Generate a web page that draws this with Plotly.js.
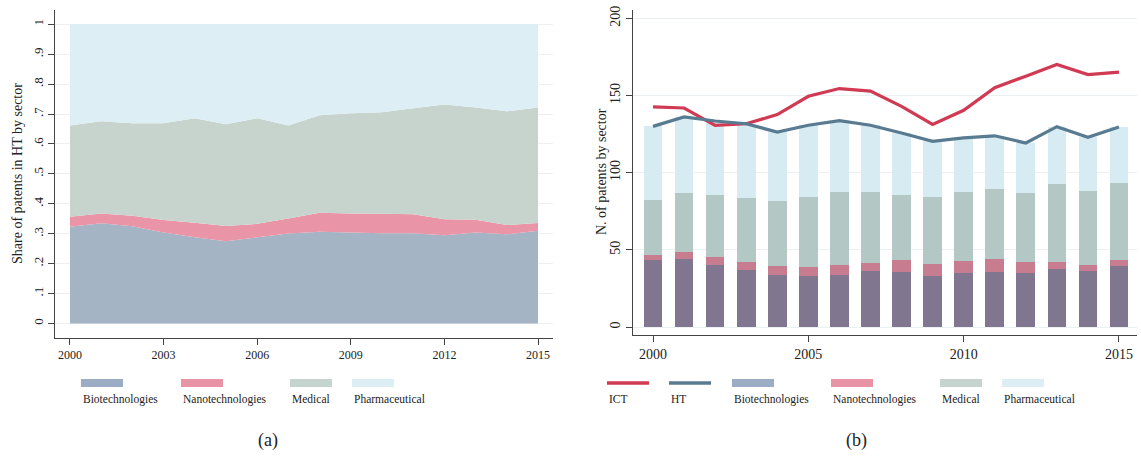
<!DOCTYPE html>
<html>
<head>
<meta charset="utf-8">
<script src="https://cdn.plot.ly/plotly-3.0.1.min.js"></script>
<style>
  html, body { margin: 0; padding: 0; background: #ffffff; }
  #chart { width: 1141px; height: 459px; }
</style>
</head>
<body>
<div id="chart"></div>
<script>
// Years covered by both panels
const years = [2000, 2001, 2002, 2003, 2004, 2005, 2006, 2007, 2008, 2009, 2010, 2011, 2012, 2013, 2014, 2015];

// Panel (a): share of HT patents by sector (stacked, sums to 1)
const shareBio    = [0.323, 0.335, 0.325, 0.304, 0.288, 0.275, 0.288, 0.301, 0.307, 0.304, 0.302, 0.302, 0.295, 0.304, 0.298, 0.310];
const shareNano   = [0.034, 0.033, 0.035, 0.042, 0.049, 0.051, 0.045, 0.050, 0.063, 0.064, 0.065, 0.063, 0.053, 0.043, 0.031, 0.026];
const shareMed    = [0.305, 0.308, 0.309, 0.323, 0.349, 0.340, 0.353, 0.311, 0.326, 0.335, 0.339, 0.354, 0.384, 0.375, 0.380, 0.386];
const sharePharma = [0.338, 0.324, 0.331, 0.331, 0.314, 0.334, 0.314, 0.338, 0.304, 0.297, 0.294, 0.281, 0.268, 0.278, 0.291, 0.278];

// Panel (b): number of patents by sector (stacked bars) and ICT / HT totals
const nBio    = [43.3, 44.0, 40.1, 36.8, 33.8, 33.2, 33.8, 36.0, 35.8, 33.2, 34.7, 35.5, 35.1, 37.7, 36.6, 39.4];
const nNano   = [3.5, 4.8, 5.2, 5.0, 5.9, 5.8, 6.1, 5.6, 7.5, 7.5, 7.8, 8.5, 6.7, 4.6, 3.9, 4.2];
const nMed    = [35.5, 37.9, 40.3, 41.6, 42.2, 45.5, 47.6, 46.2, 42.3, 43.4, 44.8, 45.3, 44.9, 50.2, 47.7, 49.4];
const nPharma = [47.7, 49.4, 47.9, 48.3, 44.4, 46.2, 46.2, 42.9, 40.1, 36.2, 35.3, 34.6, 32.5, 37.3, 34.7, 36.6];
const nICT    = [142.6, 141.9, 130.7, 131.7, 137.6, 149.5, 154.5, 152.8, 143.0, 131.3, 140.4, 155.1, 162.5, 170.1, 163.6, 165.1];
const nHT     = [130.0, 136.1, 133.5, 131.7, 126.3, 130.7, 133.7, 130.7, 125.7, 120.3, 122.6, 123.9, 119.2, 129.8, 122.9, 129.6];

// Labels
const sectorNames = ['Biotechnologies', 'Nanotechnologies', 'Medical', 'Pharmaceutical'];
const lineNames = ['ICT', 'HT'];
const shareTicks = [0, 0.1, 0.2, 0.3, 0.4, 0.5, 0.6, 0.7, 0.8, 0.9, 1];
const shareTickText = ['0', '.1', '.2', '.3', '.4', '.5', '.6', '.7', '.8', '.9', '1'];
const yearTicksA = [2000, 2003, 2006, 2009, 2012, 2015];
const yearTicksB = [2000, 2005, 2010, 2015];
const countTicks = [0, 50, 100, 150, 200];

// Colours
const areaColors   = ['#a4b4c4', '#e994a7', '#c6d4cd', '#ddeef4'];
const barColors    = ['#80768f', '#c77d8f', '#b3c7c4', '#d6ebf2'];
const swatchColors = ['#9cacc4', '#e993a7', '#c6d4cf', '#dcedf4'];
const lineColors   = ['#d03a52', '#597b92'];

const W = 1141, H = 459;
const px = x => x / W;
const py = y => 1 - y / H;
const FONT = 'Liberation Serif, Times New Roman, serif';
const INK = '#222222';

const shareSeries = [shareBio, shareNano, shareMed, sharePharma];
const countSeries = [nBio, nNano, nMed, nPharma];
const lineSeries = [nICT, nHT];

const traces = [];

// (a) stacked areas
shareSeries.forEach((vals, i) => {
  traces.push({
    type: 'scatter', x: years, y: vals, name: sectorNames[i],
    stackgroup: 'share', mode: 'none', fillcolor: areaColors[i],
    xaxis: 'x', yaxis: 'y', hoverinfo: 'x+y+name'
  });
});

// (b) stacked bars
countSeries.forEach((vals, i) => {
  traces.push({
    type: 'bar', x: years, y: vals, name: sectorNames[i],
    marker: { color: barColors[i], line: { width: 0 } },
    xaxis: 'x2', yaxis: 'y2'
  });
});

// (b) ICT and HT lines
lineSeries.forEach((vals, i) => {
  traces.push({
    type: 'scatter', mode: 'lines', x: years, y: vals, name: lineNames[i],
    line: { color: lineColors[i], width: 3.2 },
    xaxis: 'x2', yaxis: 'y2'
  });
});

const axisCommon = {
  showline: true, linecolor: '#444', linewidth: 1,
  ticks: 'outside', ticklen: 6, tickcolor: '#444', tickwidth: 1,
  zeroline: false, fixedrange: true,
  tickfont: { family: FONT, color: INK }
};

const shapes = [];
const annotations = [];

// Legend rows: swatch above label
const SW = 42, SW_TOP = 379, SW_BOT = 387, LINE_Y = 383, TEXT_Y = 399;
const legendA = [81, 181, 290, 352];
sectorNames.forEach((name, i) => {
  shapes.push({ type: 'rect', xref: 'paper', yref: 'paper',
    x0: px(legendA[i]), x1: px(legendA[i] + SW), y0: py(SW_BOT), y1: py(SW_TOP),
    fillcolor: swatchColors[i], line: { width: 0 } });
  annotations.push({ xref: 'paper', yref: 'paper', x: px(legendA[i]), y: py(TEXT_Y),
    xanchor: 'left', yanchor: 'middle', showarrow: false, text: name,
    font: { family: FONT, size: 11.5, color: INK } });
});

const legendB = [607, 669, 732, 831, 940, 1002];
lineNames.forEach((name, i) => {
  shapes.push({ type: 'line', xref: 'paper', yref: 'paper',
    x0: px(legendB[i]), x1: px(legendB[i] + SW), y0: py(LINE_Y), y1: py(LINE_Y),
    line: { color: lineColors[i], width: 3.5 } });
  annotations.push({ xref: 'paper', yref: 'paper', x: px(legendB[i]), y: py(TEXT_Y),
    xanchor: 'left', yanchor: 'middle', showarrow: false, text: name,
    font: { family: FONT, size: 11.5, color: INK } });
});
sectorNames.forEach((name, i) => {
  const x0 = legendB[i + 2];
  shapes.push({ type: 'rect', xref: 'paper', yref: 'paper',
    x0: px(x0), x1: px(x0 + SW), y0: py(SW_BOT), y1: py(SW_TOP),
    fillcolor: swatchColors[i], line: { width: 0 } });
  annotations.push({ xref: 'paper', yref: 'paper', x: px(x0), y: py(TEXT_Y),
    xanchor: 'left', yanchor: 'middle', showarrow: false, text: name,
    font: { family: FONT, size: 11.5, color: INK } });
});

// Axis titles
annotations.push({ xref: 'paper', yref: 'paper', x: px(17), y: py(174), textangle: -90,
  xanchor: 'center', yanchor: 'middle', showarrow: false,
  text: 'Share of patents in HT by sector', font: { family: FONT, size: 14, color: INK } });
annotations.push({ xref: 'paper', yref: 'paper', x: px(602), y: py(172), textangle: -90,
  xanchor: 'center', yanchor: 'middle', showarrow: false,
  text: 'N. of patents by sector', font: { family: FONT, size: 14, color: INK } });

// Panel captions
annotations.push({ xref: 'paper', yref: 'paper', x: px(268), y: py(440),
  xanchor: 'center', yanchor: 'middle', showarrow: false,
  text: '(a)', font: { family: FONT, size: 18, color: INK } });
annotations.push({ xref: 'paper', yref: 'paper', x: px(856), y: py(440),
  xanchor: 'center', yanchor: 'middle', showarrow: false,
  text: '(b)', font: { family: FONT, size: 18, color: INK } });

const layout = {
  width: W, height: H,
  margin: { l: 0, r: 0, t: 0, b: 0 },
  paper_bgcolor: '#ffffff', plot_bgcolor: '#ffffff',
  showlegend: false,
  barmode: 'stack', bargap: 0.4,
  font: { family: FONT, color: INK },
  xaxis: Object.assign({}, axisCommon, {
    domain: [px(55), px(553)], range: [1999.52, 2015.48],
    tickvals: yearTicksA, ticktext: yearTicksA.map(String),
    showgrid: false, anchor: 'y',
    tickfont: { family: FONT, size: 12, color: INK }
  }),
  yaxis: Object.assign({}, axisCommon, {
    domain: [py(338), py(10)], range: [-0.0485, 1.0478],
    tickvals: shareTicks, ticktext: shareTickText, tickangle: -90,
    showgrid: true, gridcolor: '#ebf0f2', gridwidth: 1, anchor: 'x',
    tickfont: { family: FONT, size: 13, color: INK }
  }),
  xaxis2: Object.assign({}, axisCommon, {
    domain: [px(633), px(1137)], range: [1999.356, 2015.58],
    tickvals: yearTicksB, ticktext: yearTicksB.map(String),
    showgrid: false, anchor: 'y2',
    tickfont: { family: FONT, size: 14, color: INK }
  }),
  yaxis2: Object.assign({}, axisCommon, {
    domain: [py(335), py(10)], range: [-5.18, 205.4],
    tickvals: countTicks, ticktext: countTicks.map(String), tickangle: -90,
    showgrid: true, gridcolor: '#ebf0f2', gridwidth: 1, anchor: 'x2',
    tickfont: { family: FONT, size: 14, color: INK }
  }),
  shapes: shapes,
  annotations: annotations
};

Plotly.newPlot('chart', traces, layout, { displayModeBar: false, staticPlot: true });
</script>
</body>
</html>
